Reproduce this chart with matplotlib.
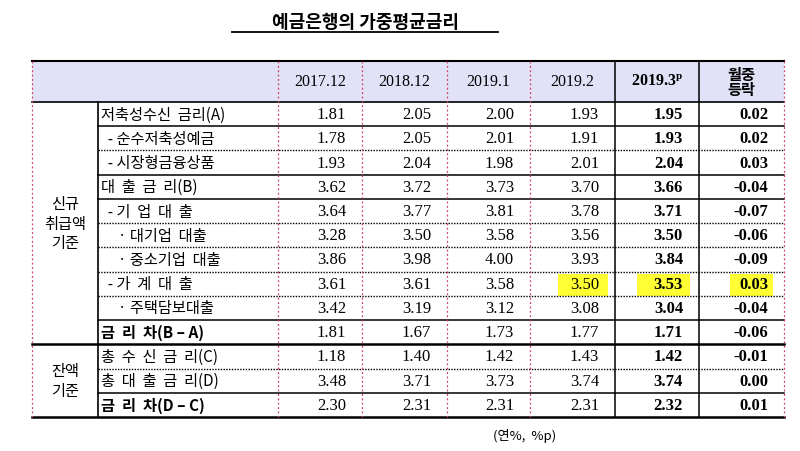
import matplotlib
matplotlib.use("Agg")
import matplotlib.pyplot as plt
from matplotlib.patches import Rectangle

title = "예금은행의 가중평균금리"
columns = ["2017.12", "2018.12", "2019.1", "2019.2", "2019.3$^{\\mathregular{p}}$", "월중\n등락"]
row_labels = ["저축성수신  금리(A)", "  - 순수저축성예금", "  - 시장형금융상품", "대  출  금  리(B)",
              "  - 기  업  대  출", "     · 대기업  대출", "     · 중소기업  대출", "  - 가  계  대  출",
              "     · 주택담보대출", "금  리  차(B – A)", "총  수  신  금  리(C)", "총  대  출  금  리(D)",
              "금  리  차(D – C)"]
groups = ["신규\n취급액\n기준", "잔액\n기준"]
v2017_12 = [1.81, 1.78, 1.93, 3.62, 3.64, 3.28, 3.86, 3.61, 3.42, 1.81, 1.18, 3.48, 2.30]
v2018_12 = [2.05, 2.05, 2.04, 3.72, 3.77, 3.50, 3.98, 3.61, 3.19, 1.67, 1.40, 3.71, 2.31]
v2019_1 = [2.00, 2.01, 1.98, 3.73, 3.81, 3.58, 4.00, 3.58, 3.12, 1.73, 1.42, 3.73, 2.31]
v2019_2 = [1.93, 1.91, 2.01, 3.70, 3.78, 3.56, 3.93, 3.50, 3.08, 1.77, 1.43, 3.74, 2.31]
v2019_3 = [1.95, 1.93, 2.04, 3.66, 3.71, 3.50, 3.84, 3.53, 3.04, 1.71, 1.42, 3.74, 2.32]
change = [0.02, 0.02, 0.03, -0.04, -0.07, -0.06, -0.09, 0.03, -0.04, -0.06, -0.01, 0.00, 0.01]
note = "(연%,  %p)"

FAM = ["Liberation Serif", "Noto Sans CJK KR"]
KFAM = ["Noto Sans CJK KR", "DejaVu Sans"]

fig = plt.figure(figsize=(8, 4.52), dpi=100)
ax = fig.add_axes([0, 0, 1, 1])
ax.set_xlim(0, 800); ax.set_ylim(452, 0); ax.axis("off")

xs = [32, 98, 278, 362, 447, 530, 615, 699, 784]
top, hbot, bot = 62, 103, 418
n = len(row_labels)
rh = (bot - hbot) / n
ys = [hbot + i * rh for i in range(n + 1)]

ax.add_patch(Rectangle((xs[0], top), xs[-1] - xs[0], hbot - top, fc="#E1E1F7", ec="none"))
# highlights
for x0, w in ((558, 50), (637, 53), (730, 43)):
    ax.add_patch(Rectangle((x0, ys[7] + 2), w, rh - 2, fc="#FFFF33", ec="none"))

ax.text(365, 22, title, ha="center", va="center", fontsize=13, fontweight="bold", family=KFAM)
ax.plot([232, 498], [33, 33], color="black", lw=1.3)

ax.plot([xs[0], xs[-1]], [top, top], color="black", lw=1.5)
ax.plot([xs[0], xs[-1]], [hbot, hbot], color="black", lw=1.2)
ax.plot([xs[0], xs[-1]], [bot, bot], color="black", lw=1.8)
styles = {1: "solid", 2: "dotted", 3: "solid", 4: "solid", 5: "dotted", 6: "dotted", 7: "dotted",
          8: "dotted", 9: "solid", 10: "thick", 11: "dotted", 12: "solid"}
for i, s in styles.items():
    y = ys[i]
    if s == "thick":
        ax.plot([xs[0], xs[-1]], [y, y], color="black", lw=1.8)
    elif s == "solid":
        ax.plot([xs[1], xs[-1]], [y, y], color="black", lw=1.1)
    else:
        ax.plot([xs[1], xs[-1]], [y, y], color="black", lw=1.0, ls=(0, (1, 1)))

for i, x in enumerate(xs):
    if i in (0, 2, 3, 4, 5, 8):
        ax.plot([x, x], [top, bot], color="#D04060", lw=0.9, ls=(0, (1.5, 2)))
    elif i == 1:
        ax.plot([x, x], [hbot, bot], color="black", lw=1.2)
    else:
        ax.plot([x, x], [top, bot], color="black", lw=1.1)

for j, c in enumerate(columns):
    cx = (xs[j + 2] + xs[j + 3]) / 2
    bold = j >= 4
    ax.text(cx, (top + hbot) / 2, c, ha="center", va="center", fontsize=11.5 if j < 5 else 11,
            fontweight="bold" if bold else "normal", family=FAM if j < 5 else KFAM,
            linespacing=0.9)

ax.text(65, (ys[0] + ys[10]) / 2, groups[0], ha="center", va="center", fontsize=11, family=KFAM, linespacing=1.2)
ax.text(65, (ys[10] + ys[13]) / 2, groups[1], ha="center", va="center", fontsize=11, family=KFAM, linespacing=1.2)

cols = [v2017_12, v2018_12, v2019_1, v2019_2, v2019_3, change]
for i, lab in enumerate(row_labels):
    cy = (ys[i] + ys[i + 1]) / 2
    boldrow = i in (9, 12)
    ax.text(xs[1] + 3, cy, lab, ha="left", va="center", fontsize=11,
            fontweight="bold" if boldrow else "normal", family=KFAM)
    for j, col in enumerate(cols):
        ax.text(xs[j + 3] - 16, cy, f"{col[i]:.2f}", ha="right", va="center",
                fontsize=12, fontweight="bold" if j >= 4 else "normal", family=FAM)

ax.text(525, 436, note, ha="center", va="center", fontsize=9.5, family=KFAM)

fig.savefig("out.png", dpi=100)
